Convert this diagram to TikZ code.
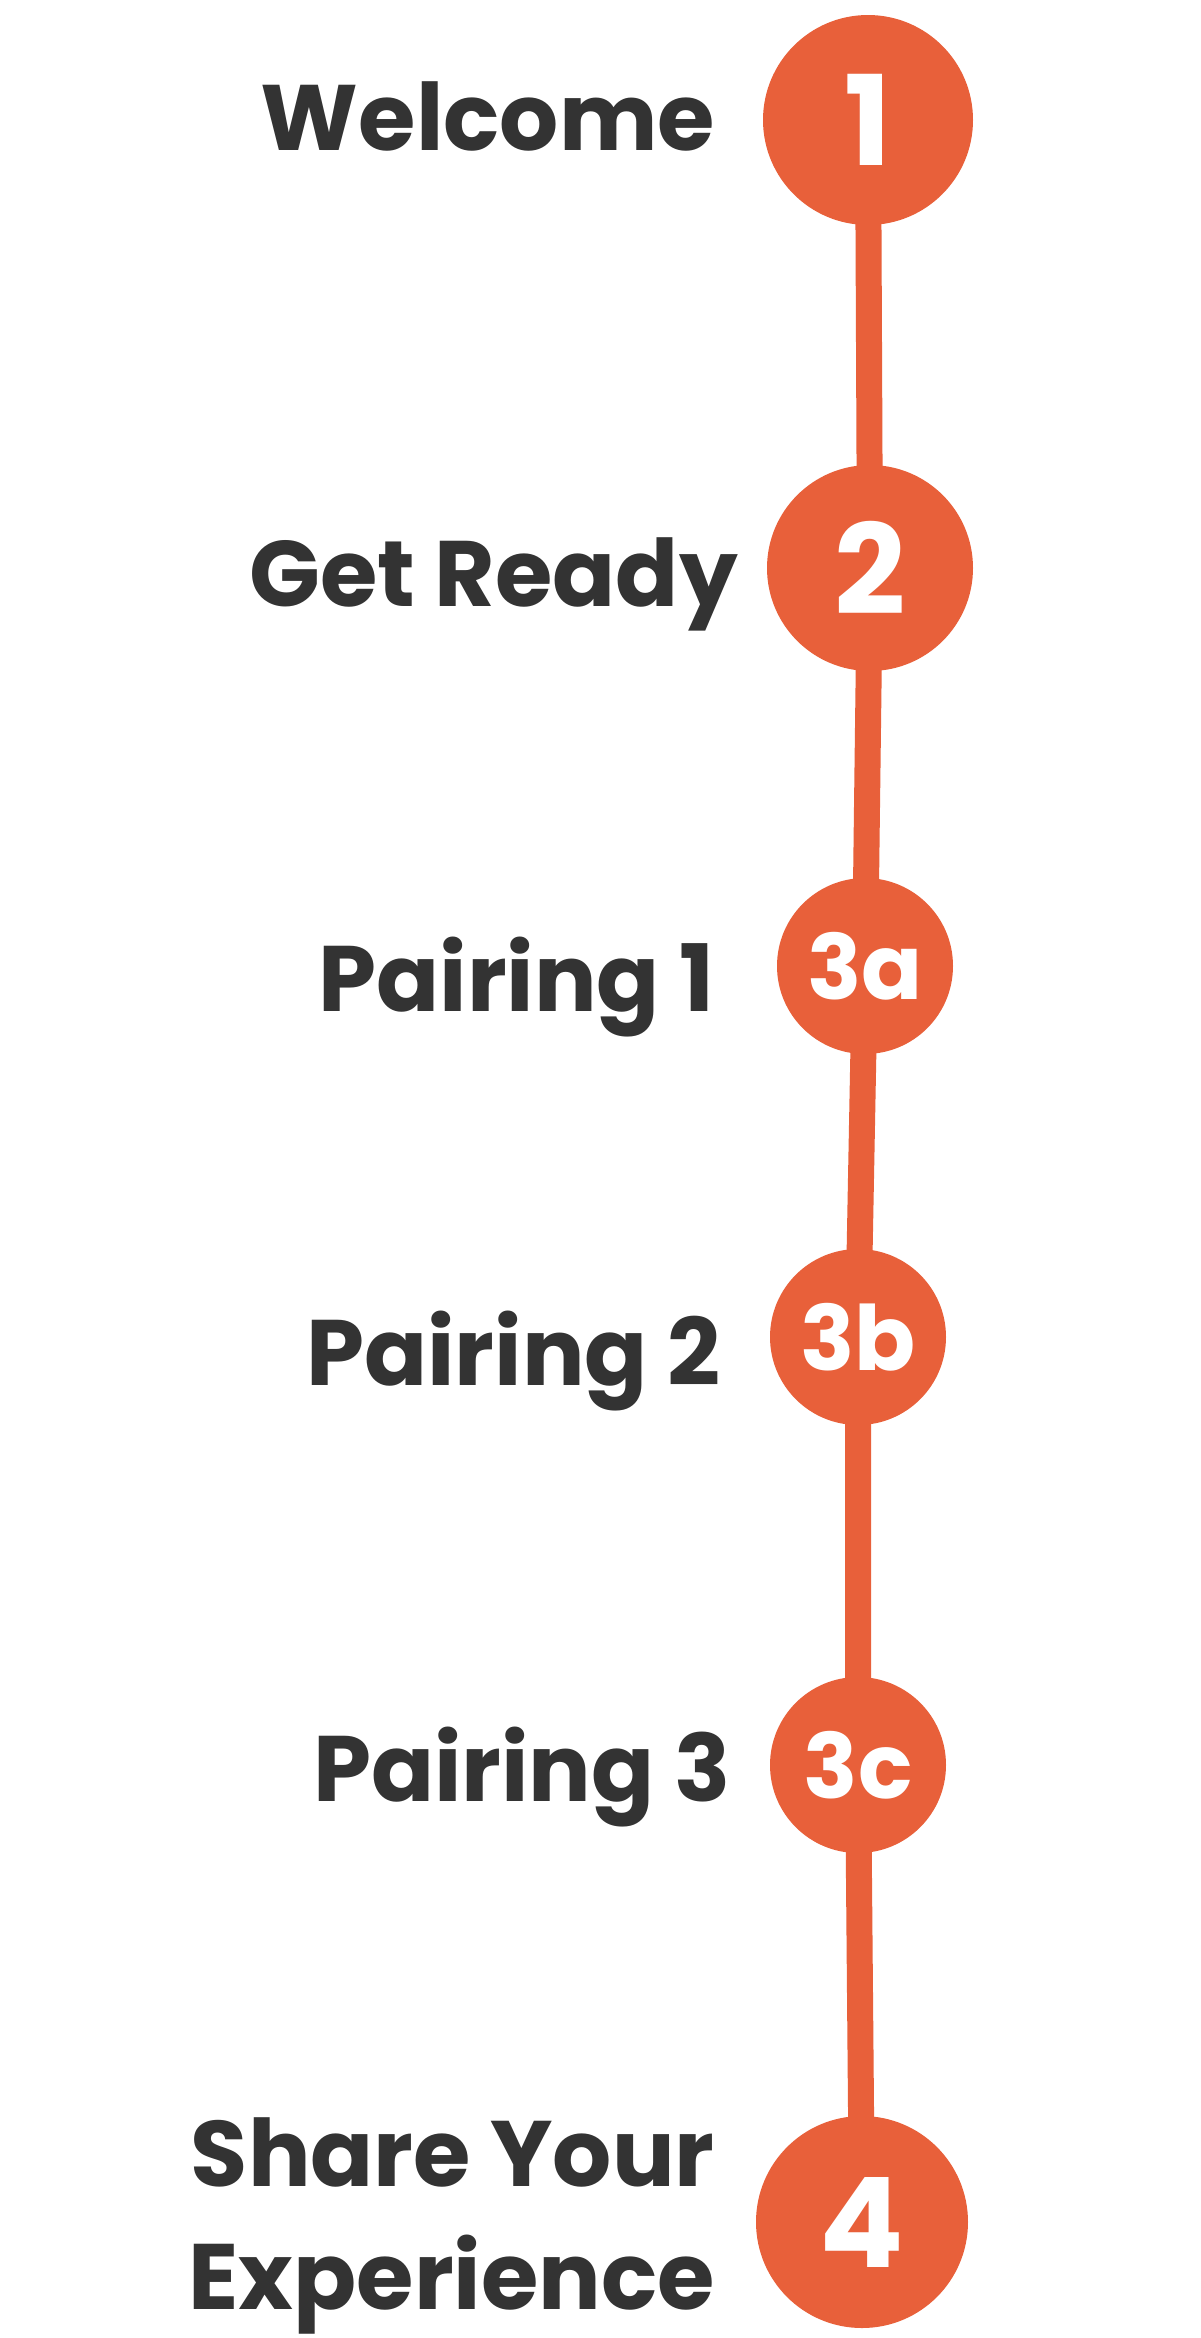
\documentclass[tikz,border=0pt]{standalone}
\usepackage{fontspec}
\newfontfamily\stepfont{Poppins}
\usetikzlibrary{backgrounds}
\definecolor{steporange}{HTML}{E8603A}
\definecolor{stepgray}{HTML}{333333}

\begin{document}
\begin{tikzpicture}[x=1pt,y=-1pt,
        dot/.style={circle,fill=steporange,text=white,inner sep=0pt,
            font=\stepfont\bfseries\fontsize{125}{125}\selectfont},
        subdot/.style={dot,minimum size=176pt,
            font=\stepfont\bfseries\fontsize{90}{90}\selectfont},
        steplabel/.style={anchor=base east,inner sep=0pt,text=stepgray,align=right,
            font=\stepfont\bfseries\fontsize{93}{123}\selectfont}]
    \useasboundingbox (0,0) rectangle (1200,2338);
    % timeline dots
    \node[dot,minimum size=210pt] (s1) at (868,120) {1};
    \node[dot,minimum size=206pt] (s2) at (870,568) {2};
    \node[subdot] (s3a) at (865,966) {3a};
    \node[subdot] (s3b) at (858,1337) {3b};
    \node[subdot] (s3c) at (858,1765) {3c};
    \node[dot,minimum size=212pt] (s4) at (862,2222) {4};
    % labels
    \node[steplabel] (l1) at (715,150) {Welcome};
    \node[steplabel] (l2) at (738,606) {Get Ready};
    \node[steplabel] (l3a) at (715,1011) {Pairing 1};
    \node[steplabel] (l3b) at (721,1385) {Pairing 2};
    \node[steplabel] (l3c) at (731,1801) {Pairing 3};
    \node[steplabel,anchor=east] (l4) at (715,2226) {Share Your\\Experience};
    % line behind the dots
    \begin{scope}[on background layer]
        \fill[white] (0,0) rectangle (1200,2338);
        \draw[steporange,line width=26pt] (s1.center) -- (s2.center) -- (s3a.center)
            -- (s3b.center) -- (s3c.center) -- (s4.center);
    \end{scope}
\end{tikzpicture}
\end{document}
